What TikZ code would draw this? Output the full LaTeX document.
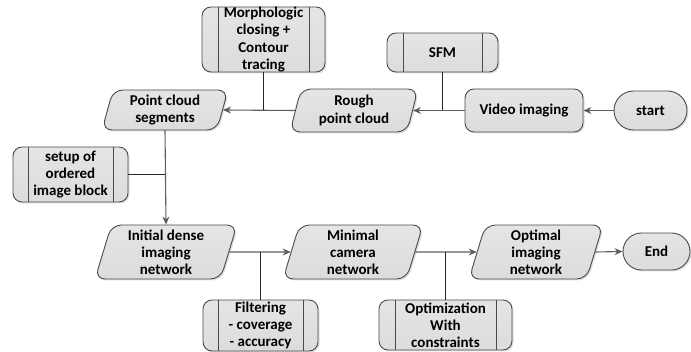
\documentclass[tikz,border=0pt]{standalone}
\usepackage{fontspec}
\setmainfont{Carlito}
\usetikzlibrary{shapes.geometric,shapes.misc,shadows,arrows.meta}
\definecolor{bordc}{HTML}{4A4A4A}
\definecolor{fillc}{HTML}{DCDCDC}
\definecolor{arrc}{HTML}{5E5E5E}
\tikzset{
 base/.style={draw=bordc, line width=0.9pt, top color=fillc!75!white, bottom color=fillc,
   font=\bfseries\fontsize{15}{17.2}\selectfont, align=center, inner sep=0pt,
   drop shadow={shadow xshift=1.5pt,shadow yshift=-1.5pt,opacity=0.25}},
 para/.style={base, trapezium, trapezium left angle=70, trapezium right angle=110,
   trapezium stretches body, rounded corners=10pt},
 procbox/.style={base, rectangle, rounded corners=9pt},
 termbox/.style={base, rounded rectangle},
 pbox/.style={procbox, path picture={
   \draw[bordc,line width=0.9pt] ([xshift=#1]path picture bounding box.north west) -- ([xshift=#1]path picture bounding box.south west);
   \draw[bordc,line width=0.9pt] ([xshift=-#1]path picture bounding box.north east) -- ([xshift=-#1]path picture bounding box.south east);}},
 arr/.style={draw=arrc, line width=1.1pt, -{Stealth[length=8pt,width=7pt]}},
 br/.style={draw=black!85, line width=1.1pt},
}
\begin{document}
\begin{tikzpicture}[x=1pt,y=-1pt]
\useasboundingbox (0,0) rectangle (691,352);
\node[pbox=16pt, minimum width=123pt, minimum height=65pt] (morph) at (263.5,39.5) {Morphologic\\closing +\\Contour\\tracing};
\node[pbox=16pt, minimum width=111pt, minimum height=39pt] (sfm) at (442.5,52.5) {SFM};
\node[para, minimum width=126pt, minimum height=40pt] (pcs) at (165,110) {Point cloud\\segments};
\node[para, minimum width=128pt, minimum height=43pt] (rough) at (354,110.5) {Rough\\point cloud};
\node[procbox, minimum width=118pt, minimum height=43pt] (video) at (524,110.5) {Video imaging};
\node[termbox, minimum width=73pt, minimum height=39pt] (start) at (650.5,110.5) {start};
\node[pbox=15pt, minimum width=115pt, minimum height=55pt] (setup) at (70.5,174.5) {setup of\\ordered\\image block};
\node[para, minimum width=142pt, minimum height=54pt] (init) at (166,252) {Initial dense\\imaging\\network};
\node[para, minimum width=140pt, minimum height=54pt] (minimal) at (353,252) {Minimal\\camera\\network};
\node[para, minimum width=134pt, minimum height=54pt] (optimal) at (536,252) {Optimal\\imaging\\network};
\node[termbox, minimum width=67pt, minimum height=37pt] (endn) at (656.5,251.5) {End};
\node[pbox=15pt, minimum width=115pt, minimum height=51pt] (filt) at (260.5,325.5) {Filtering\\- coverage\\- accuracy};
\node[pbox=16pt, minimum width=133pt, minimum height=50pt] (optim) at (445.5,325) {Optimization\\With\\constraints};
\draw[arr] (start.west) -- (video.east);
\draw[arr] (video.west) -- (rough.east);
\draw[arr] (rough.west) -- (pcs.east);
\draw[br] (sfm.south) -- (sfm.south |- video.west);
\draw[br] (morph.south) -- (morph.south |- pcs.east);
\draw[arr] (pcs.south) -- (init.north);
\draw[br] (setup.east) -- (setup.east -| pcs.south);
\draw[arr] (init.east) -- (minimal.west);
\draw[arr] (minimal.east) -- (optimal.west);
\draw[arr] (optimal.east) -- (endn.west);
\draw[br] (filt.north) -- (filt.north |- init.east);
\draw[br] (optim.north) -- (optim.north |- minimal.east);
\end{tikzpicture}
\end{document}
